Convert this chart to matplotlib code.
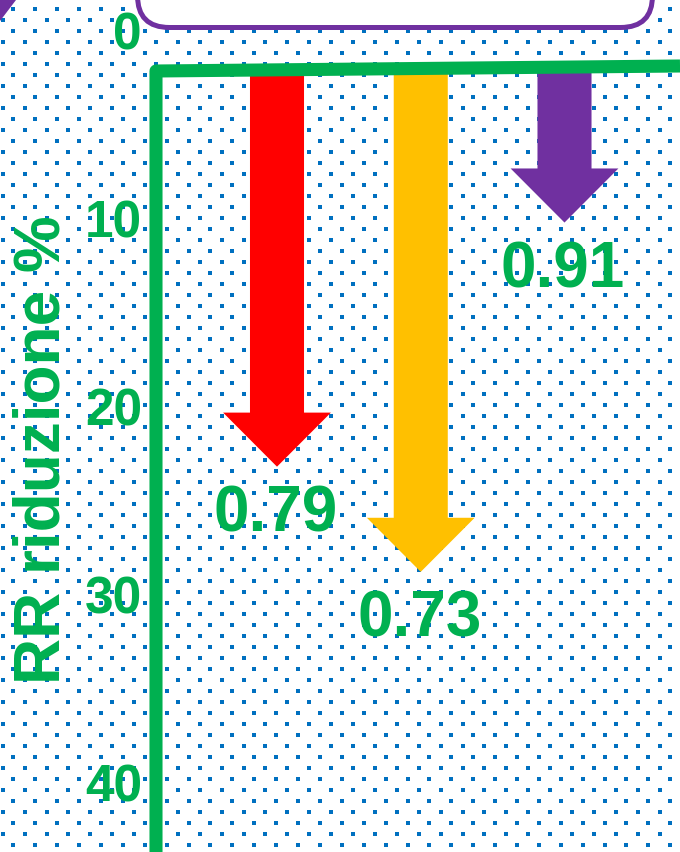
import numpy as np
import matplotlib
matplotlib.use('Agg')
import matplotlib.pyplot as plt
from matplotlib.patches import FancyBboxPatch, Polygon

plt.rcParams['font.family'] = ['Liberation Sans', 'DejaVu Sans']
plt.rcParams['font.weight'] = 'bold'

# data
rr_labels = ['0.79', '0.73', '0.91']
reduction_pct = [23.2, 28.8, 10.2]
arrow_colors = ['#FF0000', '#FFC000', '#7030A0']
yticks = [0, 10, 20, 30, 40]

green = '#00B050'
purple = '#7030A0'
dot_blue = '#0070C0'

W, H = 680, 852
fig = plt.figure(figsize=(W / 100, H / 100), dpi=100)

# background layer in pixel units: dotted texture + title box
bg = fig.add_axes([0, 0, 1, 1])
bg.set_xlim(0, W)
bg.set_ylim(H, 0)
bg.axis('off')

rows = np.arange(0, 79)
xs, ys = [], []
for k in rows:
    off = 2.7 if k % 2 else 13.3
    cols = off + 21.9 * np.arange(0, 32)
    xs.extend(cols)
    ys.extend([9 + 11 * k] * len(cols))
bg.scatter(xs, ys, s=5, marker='s', color=dot_blue, linewidths=0, zorder=1)

box = FancyBboxPatch((137.5, -60), 515, 87.5,
                     boxstyle='round,pad=0,rounding_size=32',
                     fc='white', ec=purple, lw=3.6, zorder=2)
bg.add_patch(box)
bg.add_patch(Polygon([(0, 0), (16, 0), (0, 21)], closed=True,
                     fc=purple, ec='none', zorder=2))

# main chart
px_unit = 18.78
zero_px = 31
left_px = 156
ax = fig.add_axes([left_px / W, 0, 1 - left_px / W, 1])
ax.set_facecolor('none')
ax.set_ylim((H - zero_px) / px_unit, -zero_px / px_unit)
x_step = 143.75
ax.set_xlim((left_px - 277) / x_step, (W - 277) / x_step)
for s in ax.spines.values():
    s.set_visible(False)

y_top_left = (71 - zero_px) / px_unit
y_top_right = (66 - zero_px) / px_unit
ymax = ax.get_ylim()[0]
ax.plot([0, 0, 1], [ymax + 2, y_top_left, y_top_right],
        transform=ax.get_yaxis_transform(), color=green, lw=9.4,
        solid_joinstyle='round', solid_capstyle='butt', clip_on=False, zorder=4)

for i, (val, lab, col) in enumerate(zip(reduction_pct, rr_labels, arrow_colors)):
    ax.arrow(i, y_top_left, 0, val - y_top_left, width=0.376, head_width=0.75,
             head_length=2.88, length_includes_head=True, color=col,
             linewidth=0, zorder=2)
    ax.annotate(lab, (i, val), xytext=(-1, -13), textcoords='offset points',
                ha='center', va='top', fontsize=46, fontweight='bold', color=green)

ax.set_xticks([])
ax.set_yticks(yticks)
ax.tick_params(axis='y', length=0, pad=10, labelsize=37, labelcolor=green)
for lbl in ax.get_yticklabels():
    lbl.set_fontweight('bold')

fig.text(43 / W, 1 - 450 / H, 'RR riduzione %', rotation=90, ha='center',
         va='center', fontsize=46, color=green, fontweight='bold')

fig.savefig('out.png', dpi=100)
